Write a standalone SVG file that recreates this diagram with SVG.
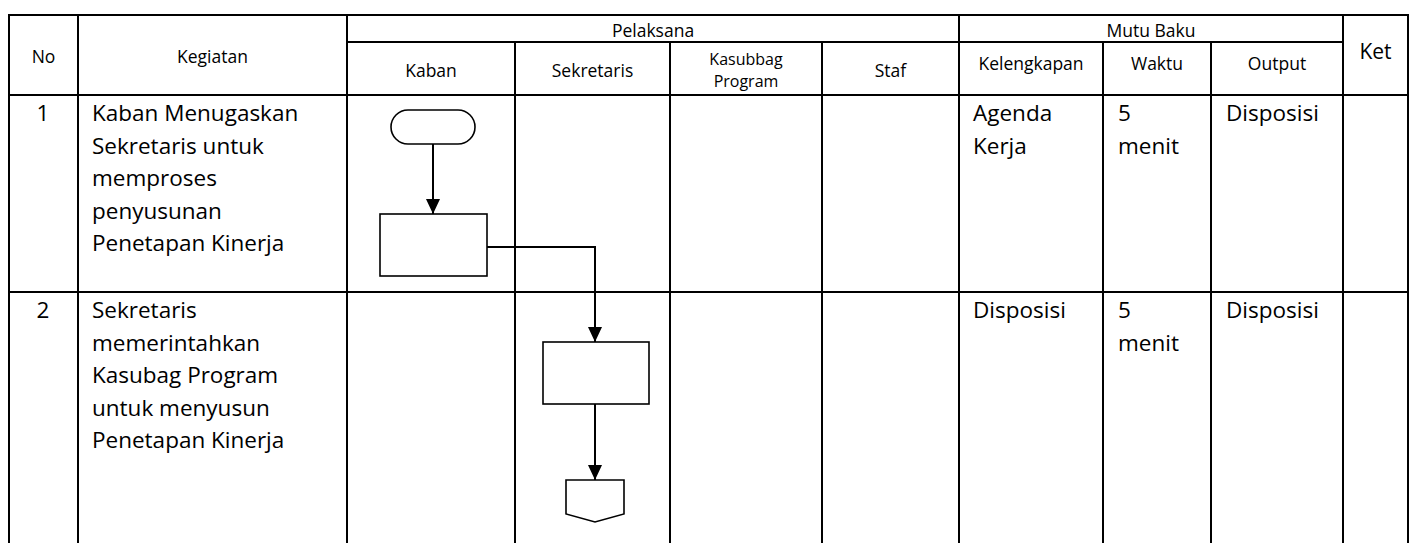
<svg xmlns="http://www.w3.org/2000/svg" width="1416" height="543" viewBox="0 0 1416 543">
<style>
.grid line{stroke:#000;stroke-width:2}
.hd{font-family:"Open Sans","Liberation Sans",sans-serif;font-size:17.5px;fill:#000;text-anchor:middle}
.hd2{font-size:16px}
.bd{font-family:"Open Sans","Liberation Sans",sans-serif;font-size:22.5px;fill:#000}
.shape{fill:#fff;stroke:#000;stroke-width:1.6}
.conn{fill:none;stroke:#000;stroke-width:2}
</style>
<defs>
<marker id="arr" markerUnits="userSpaceOnUse" markerWidth="15" markerHeight="15" refX="15" refY="7.5" orient="auto">
<path d="M0,0.5 L15,7.5 L0,14.5 Z" fill="#000"/>
</marker>
</defs>
<rect width="1416" height="543" fill="#fff"/>
<g class="grid">
<line x1="8" y1="15" x2="1409" y2="15"/>
<line x1="347" y1="42" x2="1343" y2="42"/>
<line x1="8" y1="95" x2="1409" y2="95"/>
<line x1="8" y1="292" x2="1409" y2="292"/>
<line x1="9" y1="15" x2="9" y2="543"/>
<line x1="78" y1="15" x2="78" y2="543"/>
<line x1="347" y1="15" x2="347" y2="543"/>
<line x1="515" y1="42" x2="515" y2="543"/>
<line x1="670" y1="42" x2="670" y2="543"/>
<line x1="822" y1="42" x2="822" y2="543"/>
<line x1="959" y1="15" x2="959" y2="543"/>
<line x1="1103" y1="42" x2="1103" y2="543"/>
<line x1="1211" y1="42" x2="1211" y2="543"/>
<line x1="1343" y1="15" x2="1343" y2="543"/>
<line x1="1408" y1="15" x2="1408" y2="543"/>
</g>
<g id="header">
<text class="hd" x="43.5" y="63">No</text>
<text class="hd" x="212.5" y="63">Kegiatan</text>
<text class="hd" x="653" y="37">Pelaksana</text>
<text class="hd" x="1151" y="37">Mutu Baku</text>
<text class="hd" x="431" y="77">Kaban</text>
<text class="hd" x="592.5" y="77">Sekretaris</text>
<text class="hd hd2" x="746" y="65">Kasubbag</text>
<text class="hd hd2" x="746" y="87">Program</text>
<text class="hd" x="890.5" y="77">Staf</text>
<text class="hd" x="1031" y="70">Kelengkapan</text>
<text class="hd" x="1157" y="70">Waktu</text>
<text class="hd" x="1277" y="70">Output</text>
<text class="hd" x="1375.5" y="59" style="font-size:21px">Ket</text>
</g>
<g id="row1">
<text class="bd" x="43" y="121" text-anchor="middle">1</text>
<text class="bd" x="92" y="121">Kaban Menugaskan</text>
<text class="bd" x="92" y="153.5">Sekretaris untuk</text>
<text class="bd" x="92" y="186">memproses</text>
<text class="bd" x="92" y="218.5">penyusunan</text>
<text class="bd" x="92" y="251">Penetapan Kinerja</text>
<text class="bd" x="973" y="121">Agenda</text>
<text class="bd" x="973" y="153.5">Kerja</text>
<text class="bd" x="1118" y="121">5</text>
<text class="bd" x="1118" y="153.5">menit</text>
<text class="bd" x="1226" y="121">Disposisi</text>
</g>
<g id="row2">
<text class="bd" x="43" y="318" text-anchor="middle">2</text>
<text class="bd" x="92" y="318">Sekretaris</text>
<text class="bd" x="92" y="350.5">memerintahkan</text>
<text class="bd" x="92" y="383">Kasubag Program</text>
<text class="bd" x="92" y="415.5">untuk menyusun</text>
<text class="bd" x="92" y="448">Penetapan Kinerja</text>
<text class="bd" x="973" y="318">Disposisi</text>
<text class="bd" x="1118" y="318">5</text>
<text class="bd" x="1118" y="350.5">menit</text>
<text class="bd" x="1226" y="318">Disposisi</text>
</g>
<g id="connectors">
<line class="conn" x1="433" y1="144" x2="433" y2="214" marker-end="url(#arr)"/>
<polyline class="conn" points="487,247 595,247 595,342" marker-end="url(#arr)"/>
<line class="conn" x1="595" y1="404" x2="595" y2="480" marker-end="url(#arr)"/>
</g>
<g id="start"><rect class="shape" x="391" y="110" width="84" height="34" rx="17"/></g>
<g id="process1"><rect class="shape" x="380" y="214" width="107" height="62"/></g>
<g id="process2"><rect class="shape" x="543" y="342" width="106" height="62"/></g>
<g id="offpage"><polygon class="shape" points="566,480 624,480 624,514 595,522 566,514"/></g>
</svg>
